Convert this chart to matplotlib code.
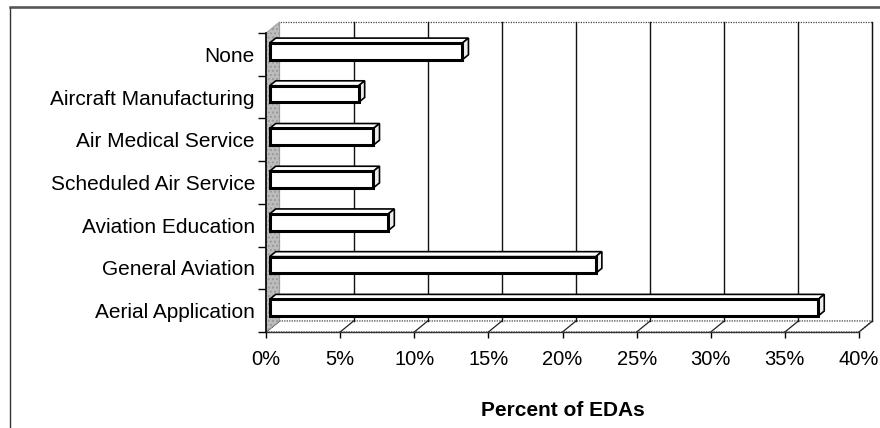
import matplotlib
matplotlib.use("Agg")
import matplotlib.pyplot as plt
from matplotlib.patches import Polygon, Rectangle
from matplotlib.ticker import FixedLocator, NullFormatter, FixedFormatter

plt.rcParams['font.family'] = ['Liberation Sans', 'DejaVu Sans']

# Data (top to bottom as listed on the chart)
categories = ["None", "Aircraft Manufacturing", "Air Medical Service",
              "Scheduled Air Service", "Aviation Education",
              "General Aviation", "Aerial Application"]
percent_edas = [13, 6, 7, 7, 8, 22, 37]
x_ticks = [0, 5, 10, 15, 20, 25, 30, 35, 40]
x_tick_labels = ["0%", "5%", "10%", "15%", "20%", "25%", "30%", "35%", "40%"]
x_title = "Percent of EDAs"

W, H = 880, 428
fig = plt.figure(figsize=(W / 100, H / 100), dpi=100)

# outer chart frame (runs off the right and bottom edges)
frame_left = Rectangle((10 / W, -0.05), 2.0, 1 - 7 / H + 0.05, transform=fig.transFigure,
                       fill=False, edgecolor="#333333", linewidth=1.0)
fig.patches.append(frame_left)
fig.add_artist(plt.Line2D([10 / W, 1.0], [1 - 7 / H, 1 - 7 / H], transform=fig.transFigure,
                          color="#555555", linewidth=1.8))

ax = fig.add_axes([266 / W, (H - 332) / H, (859 - 266) / W, (332 - 33) / H])
n = len(categories)
xmax = 40
ax.set_xlim(0, xmax)
ax.set_ylim(0, n)

# 3D depth offset of the back wall (in data units)
ox, oy = 0.91, 0.258

# back wall
back = Rectangle((ox, oy), xmax, n, facecolor="white", edgecolor="#444444",
                 linewidth=0.9, linestyle=(0, (1, 1)), clip_on=False, zorder=1)
ax.add_patch(back)
for x in x_ticks[1:-1]:
    ax.plot([x + ox, x + ox], [oy, n + oy], color="#111111", lw=1.0,
            clip_on=False, zorder=1.5)
ax.plot([xmax + ox, xmax + ox], [oy, n + oy], color="#111111", lw=1.0,
        clip_on=False, zorder=1.5)

# floor
floor = Polygon([(0, 0), (xmax, 0), (xmax + ox, oy), (ox, oy)], closed=True,
                facecolor="white", edgecolor="#444444", linewidth=0.9,
                linestyle=(0, (1, 1)), clip_on=False, zorder=1.2)
ax.add_patch(floor)
for x in x_ticks:
    ax.plot([x, x + ox], [0, oy], color="#222222", lw=0.9, clip_on=False, zorder=1.6)

# left side wall
side = Polygon([(0, 0), (0, n), (ox, n + oy), (ox, oy)], closed=True,
               facecolor="#bdbdbd", edgecolor="#999999", linewidth=0.6,
               hatch="....", clip_on=False, zorder=1.7)
ax.add_patch(side)

# bars with a shallow 3D body
f0, f1 = 0.27, 0.72
bar_h = 0.39
ypos = [n - 1 - i + 0.5 for i in range(n)]
for yc, v in zip(ypos, percent_edas):
    yf = yc + f0 * oy
    x0 = f0 * ox
    top = Polygon([(x0, yf + bar_h / 2), (x0 + v, yf + bar_h / 2),
                   (f1 * ox + v, yc + f1 * oy + bar_h / 2), (f1 * ox, yc + f1 * oy + bar_h / 2)],
                  closed=True, facecolor="white", edgecolor="black", linewidth=1.2,
                  clip_on=False, zorder=3)
    end = Polygon([(x0 + v, yf - bar_h / 2), (f1 * ox + v, yc + f1 * oy - bar_h / 2),
                   (f1 * ox + v, yc + f1 * oy + bar_h / 2), (x0 + v, yf + bar_h / 2)],
                  closed=True, facecolor="#eeeeee", edgecolor="black", linewidth=1.2,
                  clip_on=False, zorder=3)
    ax.add_patch(top)
    ax.add_patch(end)
ax.barh([yc + f0 * oy for yc in ypos], percent_edas, left=f0 * ox, height=bar_h,
        color="white", edgecolor="black", linewidth=2.2, zorder=4, clip_on=False)

# axes styling
ax.patch.set_visible(False)
for s in ("top", "right"):
    ax.spines[s].set_visible(False)
ax.spines["left"].set_color("black")
ax.spines["left"].set_linewidth(1.2)
ax.spines["left"].set_zorder(5)
ax.spines["bottom"].set_color("#333333")
ax.spines["bottom"].set_linewidth(1.0)
ax.spines["bottom"].set_linestyle((0, (1, 1)))

ax.set_xticks(x_ticks)
ax.set_xticklabels(x_tick_labels, fontsize=14.5)
ax.tick_params(axis="x", direction="out", length=4, width=1.0, color="black", pad=9)

ax.yaxis.set_major_locator(FixedLocator(list(range(n + 1))))
ax.yaxis.set_major_formatter(NullFormatter())
ax.yaxis.set_minor_locator(FixedLocator(ypos))
ax.yaxis.set_minor_formatter(FixedFormatter(categories))
ax.tick_params(axis="y", which="major", direction="out", length=5.5, width=1.0, color="black")
ax.tick_params(axis="y", which="minor", length=0, pad=8, labelsize=15)

ax.set_xlabel(x_title, fontsize=15, fontweight="bold", labelpad=23)

fig.savefig("out.png", dpi=100)
